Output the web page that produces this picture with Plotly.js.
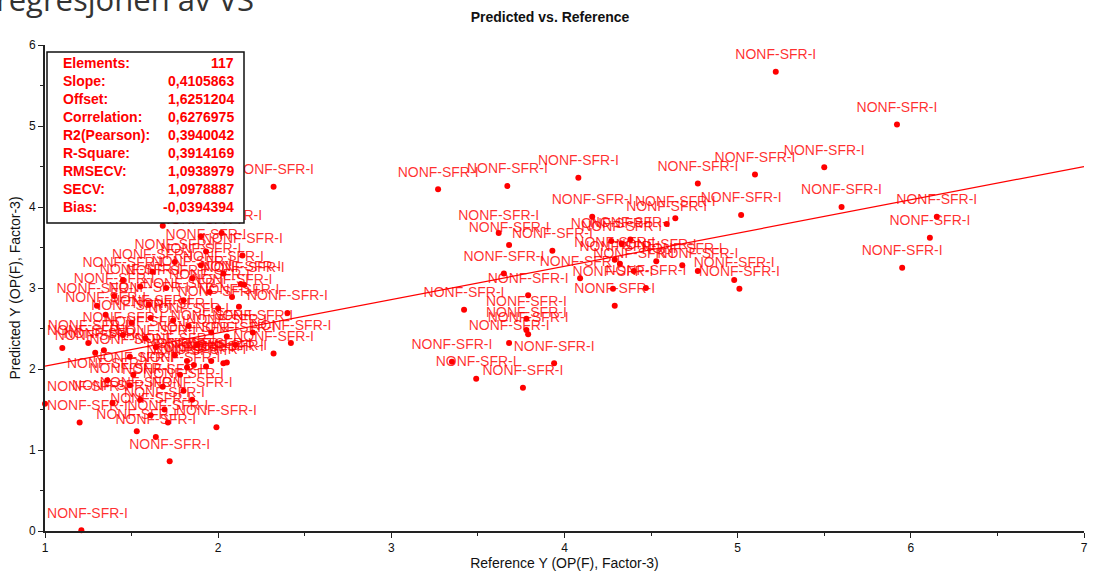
<!DOCTYPE html>
<html>
<head>
<meta charset="utf-8">
<script src="https://cdn.plot.ly/plotly-3.0.1.min.js"></script>
<style>
  html, body { margin: 0; padding: 0; background: #fff; }
  #chart { width: 1094px; height: 574px; }
</style>
</head>
<body>
<div id="chart"></div>
<script>
// Reference (x) and predicted (y) values, one per sample
const referenceY = [
  1.68, 1.90, 2.02, 2.32, 2.14, 2.03, 2.13, 2.15, 2.08, 2.12,
  2.40, 1.55, 1.93, 1.75, 1.90, 1.62, 1.85, 1.45, 1.70, 1.95,
  1.40, 1.80, 1.60, 2.00, 1.30, 1.35, 1.50, 1.61, 1.74, 1.83,
  1.96, 2.05, 1.58, 2.20, 1.10, 1.25, 1.29, 1.34, 1.49, 1.64,
  1.75, 1.82, 1.86, 1.96, 1.93, 2.03, 2.05, 2.32, 2.42, 1.88,
  2.10, 1.45, 1.51, 1.78, 1.36, 1.49, 1.68, 1.80, 1.00, 1.39,
  1.55, 1.69, 1.85, 1.61, 1.71, 1.20, 1.53, 1.64, 1.72, 1.99,
  1.21, 1.82,
  5.22, 5.92, 5.50, 5.10, 4.77, 5.60, 5.02, 6.15, 6.11, 5.95,
  3.27, 3.67, 4.08, 4.16, 4.59, 4.64, 3.62, 3.68, 3.93, 4.27,
  4.33, 4.38, 4.29, 4.32, 4.53, 4.68, 4.77, 4.98, 5.01, 3.65,
  4.09, 4.40, 4.28, 4.47, 4.29, 3.79, 3.42, 3.78, 3.78, 3.79,
  3.68, 3.35, 3.94, 3.49, 3.76
];
const predictedY = [
  3.77, 3.64, 3.68, 4.25, 3.40, 3.18, 3.05, 3.04, 2.89, 2.77,
  2.69, 3.02, 3.45, 3.32, 3.28, 3.20, 3.12, 3.10, 3.00, 2.95,
  2.90, 2.85, 2.80, 2.75, 2.78, 2.67, 2.57, 2.63, 2.60, 2.53,
  2.45, 2.40, 2.38, 2.45, 2.26, 2.32, 2.20, 2.23, 2.15, 2.27,
  2.17, 2.10, 2.05, 2.10, 2.03, 2.07, 2.08, 2.19, 2.32, 2.30,
  2.30, 2.42, 1.93, 1.93, 1.86, 1.80, 1.78, 1.73, 1.57, 1.58,
  1.62, 1.50, 1.62, 1.43, 1.34, 1.34, 1.23, 1.16, 0.86, 1.28,
  0.01, 2.02,
  5.67, 5.02, 4.49, 4.40, 4.29, 4.00, 3.90, 3.88, 3.62, 3.25,
  4.22, 4.26, 4.36, 3.88, 3.79, 3.86, 3.68, 3.53, 3.46, 3.58,
  3.55, 3.60, 3.35, 3.30, 3.33, 3.28, 3.21, 3.10, 2.99, 3.18,
  3.12, 3.21, 2.99, 3.00, 2.78, 2.91, 2.73, 2.62, 2.48, 2.43,
  2.32, 2.09, 2.07, 1.88, 1.77
];
const sampleName = 'NONF-SFR-I';

// Regression summary
const statNames = ['Elements:', 'Slope:', 'Offset:', 'Correlation:', 'R2(Pearson):',
                   'R-Square:', 'RMSECV:', 'SECV:', 'Bias:'];
const statValues = ['117', '0,4105863', '1,6251204', '0,6276975', '0,3940042',
                    '0,3914169', '1,0938979', '1,0978887', '-0,0394394'];
const slope = 0.4105863;
const offset = 1.6251204;
const fitRange = [1, 7];

// Plot-area geometry in pixels
const W = 1094, H = 574;
const M = { l: 45, r: 10, t: 45, b: 43 };
const PW = W - M.l - M.r, PH = H - M.t - M.b;
const px = x => (x - M.l) / PW;          // page x pixel -> paper
const py = y => (H - M.b - y) / PH;      // page y pixel -> paper

const RED = '#ff0000';
const FONT = 'Liberation Sans, Arial, sans-serif';

// Sample labels sit above their points but are kept inside the left edge of the plot
const X_MIN = 1, X_MAX = 7;
const labelHalfWidth = 42.5 * (X_MAX - X_MIN) / PW;
const labelX = referenceY.map(v => Math.max(v, X_MIN + labelHalfWidth));

const labels = {
  type: 'scatter', mode: 'markers+text',
  x: labelX, y: predictedY,
  text: referenceY.map(() => sampleName),
  textposition: 'top center',
  textfont: { family: FONT, size: 14, color: 'rgba(255,0,0,0.82)' },
  marker: { size: 13, color: 'rgba(0,0,0,0)' },
  cliponaxis: false, hoverinfo: 'skip', showlegend: false
};

const points = {
  type: 'scatter', mode: 'markers',
  x: referenceY, y: predictedY,
  marker: { size: 6, color: RED },
  cliponaxis: false, hoverinfo: 'skip', showlegend: false
};

const fitLine = {
  type: 'scatter', mode: 'lines',
  x: fitRange, y: fitRange.map(v => offset + slope * v),
  line: { color: RED, width: 1.2 },
  hoverinfo: 'skip', showlegend: false
};

// Summary box text
const annotations = [];
statNames.forEach((name, i) => {
  const yy = py(63 + 18 * i);
  annotations.push({
    xref: 'paper', yref: 'paper', x: px(61), y: yy, xanchor: 'left', yanchor: 'middle',
    text: '<b>' + name + '</b>', showarrow: false,
    font: { family: FONT, size: 14, color: RED }
  });
  annotations.push({
    xref: 'paper', yref: 'paper', x: px(236), y: yy, xanchor: 'right', yanchor: 'middle',
    text: '<b>' + statValues[i] + '</b>', showarrow: false,
    font: { family: FONT, size: 14, color: RED }
  });
});
// Heading text above the chart, running off the top of the page
annotations.push({
  xref: 'paper', yref: 'paper', x: px(-6), y: py(22), xanchor: 'left', yanchor: 'bottom',
  text: 'regresjonen av VS', showarrow: false,
  font: { family: 'Open Sans, sans-serif', size: 31, color: '#333' }
});

const axisCommon = {
  showgrid: false, zeroline: false,
  showline: true, linecolor: '#222', linewidth: 2, mirror: false,
  ticks: 'outside', ticklen: 5, tickwidth: 1, tickcolor: '#222',
  tickfont: { family: FONT, size: 12, color: '#111' },
  minor: { dtick: 0.5, ticks: 'outside', ticklen: 3, tickcolor: '#222' }
};

const layout = {
  width: W, height: H,
  margin: M,
  paper_bgcolor: '#fff', plot_bgcolor: '#fff',
  title: {
    text: '<b>Predicted vs. Reference</b>',
    font: { family: FONT, size: 14, color: '#111' },
    xref: 'paper', x: px(550), xanchor: 'center',
    yref: 'container', y: 1 - 17 / H, yanchor: 'middle'
  },
  xaxis: Object.assign({}, axisCommon, {
    range: [X_MIN, X_MAX], dtick: 1, tick0: 1,
    title: { text: 'Reference Y (OP(F), Factor-3)', font: { family: FONT, size: 14, color: '#111' }, standoff: 3 }
  }),
  yaxis: Object.assign({}, axisCommon, {
    range: [0, 6], dtick: 1, tick0: 0,
    title: { text: 'Predicted Y (OP(F), Factor-3)', font: { family: FONT, size: 14, color: '#111' }, standoff: 5 }
  }),
  shapes: [{
    type: 'rect', xref: 'paper', yref: 'paper', layer: 'above',
    x0: px(47), x1: px(244), y0: py(223), y1: py(52),
    line: { color: '#111', width: 1.5 }, fillcolor: '#fff'
  }],
  annotations: annotations
};

Plotly.newPlot('chart', [labels, fitLine, points], layout, { displayModeBar: false, staticPlot: true });
</script>
</body>
</html>
